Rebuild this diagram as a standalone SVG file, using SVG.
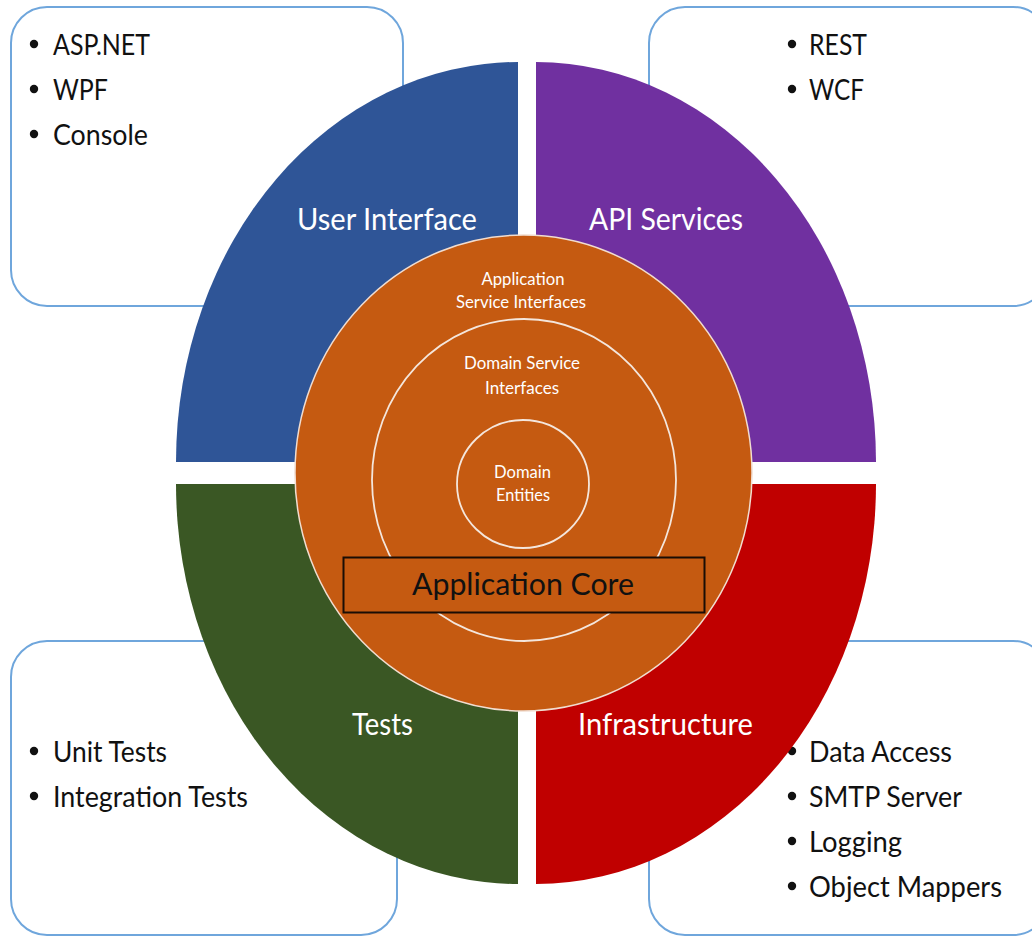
<svg xmlns="http://www.w3.org/2000/svg" width="1032" height="936" viewBox="0 0 1032 936">
  <style>
    .box { fill: #ffffff; stroke: #6fa6dc; stroke-width: 2; }
    .item { font-family: Lato, "Open Sans", "Liberation Sans", sans-serif; font-size: 28px; fill: #111111; }
    .dot { fill: #111111; }
    .quad-label { font-family: Lato, "Open Sans", "Liberation Sans", sans-serif; font-size: 31px; fill: #ffffff; }
    .ring-label { font-family: Lato, "Open Sans", "Liberation Sans", sans-serif; font-size: 17px; fill: #ffffff; text-anchor: middle; }
    .ring { fill: none; stroke: #f4e6dc; stroke-width: 1.8; }
    .core-title { font-family: Lato, "Open Sans", "Liberation Sans", sans-serif; font-size: 30px; fill: #111111; }
  </style>

  <rect width="1032" height="936" fill="#ffffff"/>

  <!-- Corner boxes listing technologies -->
  <g id="box-ui">
    <rect class="box" x="11" y="7" width="392" height="299" rx="36"/>
    <circle class="dot" cx="34" cy="44" r="4.2"/>
    <text class="item" x="53" y="55" textLength="97" lengthAdjust="spacingAndGlyphs">ASP.NET</text>
    <circle class="dot" cx="34" cy="89" r="4.2"/>
    <text class="item" x="53" y="100" textLength="55" lengthAdjust="spacingAndGlyphs">WPF</text>
    <circle class="dot" cx="34" cy="134" r="4.2"/>
    <text class="item" x="53" y="145" textLength="95" lengthAdjust="spacingAndGlyphs">Console</text>
  </g>

  <g id="box-api">
    <rect class="box" x="649" y="7" width="400" height="299" rx="36"/>
    <circle class="dot" cx="792" cy="44" r="4.2"/>
    <text class="item" x="809" y="55" textLength="58" lengthAdjust="spacingAndGlyphs">REST</text>
    <circle class="dot" cx="792" cy="89" r="4.2"/>
    <text class="item" x="809" y="100" textLength="55" lengthAdjust="spacingAndGlyphs">WCF</text>
  </g>

  <g id="box-tests">
    <rect class="box" x="11" y="641" width="386" height="294" rx="36"/>
    <circle class="dot" cx="34" cy="751" r="4.2"/>
    <text class="item" x="53" y="762" textLength="114" lengthAdjust="spacingAndGlyphs">Unit Tests</text>
    <circle class="dot" cx="34" cy="796" r="4.2"/>
    <text class="item" x="53" y="807" textLength="195" lengthAdjust="spacingAndGlyphs">Integration Tests</text>
  </g>

  <g id="box-infra">
    <rect class="box" x="649" y="641" width="400" height="294" rx="36"/>
    <circle class="dot" cx="792" cy="751" r="4.2"/>
    <text class="item" x="809" y="762" textLength="143" lengthAdjust="spacingAndGlyphs">Data Access</text>
    <circle class="dot" cx="792" cy="796" r="4.2"/>
    <text class="item" x="809" y="807" textLength="153" lengthAdjust="spacingAndGlyphs">SMTP Server</text>
    <circle class="dot" cx="792" cy="841" r="4.2"/>
    <text class="item" x="809" y="852" textLength="93" lengthAdjust="spacingAndGlyphs">Logging</text>
    <circle class="dot" cx="792" cy="886" r="4.2"/>
    <text class="item" x="809" y="897" textLength="193" lengthAdjust="spacingAndGlyphs">Object Mappers</text>
  </g>

  <!-- Outer quadrants -->
  <g id="user-interface">
    <path d="M518,462 L176,462 A342,400 0 0 1 518,62 Z" fill="#2f5597"/>
    <text class="quad-label" x="297" y="230" textLength="180" lengthAdjust="spacingAndGlyphs">User Interface</text>
  </g>

  <g id="api-services">
    <path d="M536,462 L536,62 A340,400 0 0 1 876,462 Z" fill="#7030a0"/>
    <text class="quad-label" x="589" y="230" textLength="154" lengthAdjust="spacingAndGlyphs">API Services</text>
  </g>

  <g id="tests">
    <path d="M518,484 L518,884 A342,400 0 0 1 176,484 Z" fill="#3a5724"/>
    <text class="quad-label" x="352" y="735" textLength="61" lengthAdjust="spacingAndGlyphs">Tests</text>
  </g>

  <g id="infrastructure">
    <path d="M536,484 L876,484 A340,400 0 0 1 536,884 Z" fill="#c00000"/>
    <text class="quad-label" x="578" y="735" textLength="175" lengthAdjust="spacingAndGlyphs">Infrastructure</text>
  </g>

  <!-- Application core rings -->
  <g id="application-core">
    <ellipse cx="523.5" cy="473" rx="228.5" ry="238" fill="#c55a11" stroke="#f1ddd0" stroke-width="1.5"/>
    <text class="ring-label" x="523" y="285" textLength="83" lengthAdjust="spacingAndGlyphs">Application</text>
    <text class="ring-label" x="521" y="308" textLength="130" lengthAdjust="spacingAndGlyphs">Service Interfaces</text>
  </g>

  <g id="domain-service-interfaces">
    <ellipse class="ring" cx="524" cy="480" rx="152" ry="161"/>
    <text class="ring-label" x="522" y="369" textLength="116" lengthAdjust="spacingAndGlyphs">Domain Service</text>
    <text class="ring-label" x="522" y="394" textLength="74" lengthAdjust="spacingAndGlyphs">Interfaces</text>
  </g>

  <g id="domain-entities">
    <ellipse class="ring" cx="523" cy="484" rx="66" ry="64"/>
    <text class="ring-label" x="522.5" y="478" textLength="57" lengthAdjust="spacingAndGlyphs">Domain</text>
    <text class="ring-label" x="523" y="501" textLength="54" lengthAdjust="spacingAndGlyphs">Entities</text>
  </g>

  <g id="core-title">
    <rect x="343.5" y="557.5" width="361" height="55" fill="#c55a11" stroke="#1a0d05" stroke-width="2"/>
    <text class="core-title" x="412" y="595" textLength="222" lengthAdjust="spacingAndGlyphs">Application Core</text>
  </g>
</svg>
